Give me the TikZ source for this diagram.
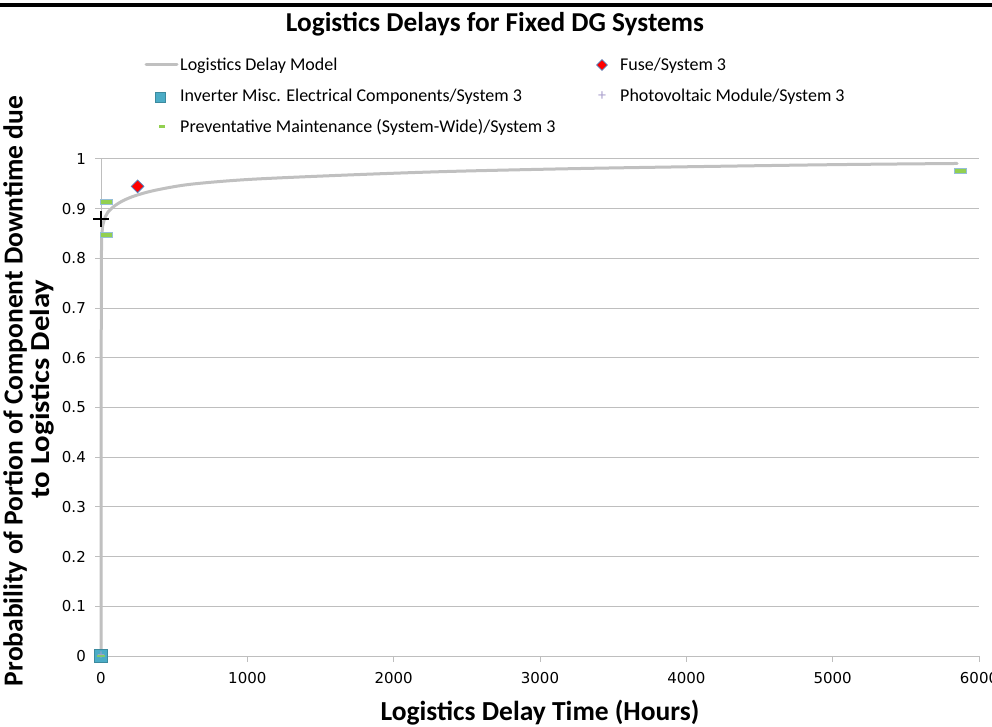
\documentclass[tikz,border=0pt]{standalone}
\usepackage{fontspec}
\setmainfont{Carlito}
\newfontfamily\tickfont{DejaVu Sans}
\usetikzlibrary{shapes.geometric}
\definecolor{gridgray}{RGB}{190,190,190}
\definecolor{curvegray}{RGB}{192,192,192}
\definecolor{mteal}{RGB}{75,172,198}
\definecolor{pvpurple}{RGB}{170,160,205}
\definecolor{mgreen}{RGB}{146,208,80}
\definecolor{mblue}{RGB}{79,129,189}
\definecolor{dashedge}{RGB}{150,190,215}
\tikzset{
  gridline/.style={draw=gridgray, line width=1pt},
  modelcurve/.style={draw=curvegray, line width=3pt, line cap=round, line join=round},
  tlabel/.style={font=\tickfont\fontsize{15}{17}\selectfont, inner sep=0pt},
  legtext/.style={font=\fontsize{18}{21}\selectfont, anchor=base west, inner sep=0pt},
  fusemark/.style={diamond, fill=red, draw=mblue, line width=0.8pt, minimum size=13pt, inner sep=0pt},
  invmark/.style={rectangle, fill=mteal, draw=mteal!80!black, line width=0.5pt, minimum size=13pt, inner sep=0pt},
  pmmark/.style={rectangle, fill=mgreen, draw=dashedge, line width=0.7pt, minimum width=12pt, minimum height=5pt, inner sep=0pt},
  axistitle/.style={font=\bfseries\fontsize{27.5}{30}\selectfont, inner sep=0pt}
}
\begin{document}
\begin{tikzpicture}[x=1pt,y=-1pt]
\useasboundingbox (0,0) rectangle (992,727);
\fill[white] (0,0) rectangle (992,727);
\draw[line width=3.5pt] (0,5) -- (992,5);
\node[axistitle, font=\bfseries\fontsize{27.3}{30}\selectfont, anchor=base] (title) at (495,32) {Logistics Delays for Fixed DG Systems};
% legend
\coordinate (l1a) at (146,65);
\coordinate (l1b) at (177,65);
\draw[modelcurve] (l1a) -- (l1b);
\node[legtext] (leg1) at (180,71) {Logistics Delay Model};
\node[fusemark, minimum size=11pt] (legfuse) at (602,65) {};
\node[legtext] (leg2) at (620,71) {Fuse/System 3};
\node[invmark, minimum size=10pt] (leginv) at (160,97) {};
\node[legtext] (leg3) at (180,102) {Inverter Misc. Electrical Components/System 3};
\node[text=pvpurple, font=\fontsize{16}{16}\selectfont, inner sep=0pt] (legpv) at (602,96) {+};
\node[legtext] (leg4) at (620,102) {Photovoltaic Module/System 3};
\node[pmmark, minimum width=6pt, minimum height=3pt, draw=none] (legpm) at (162,127) {};
\node[legtext] (leg5) at (180,133) {Preventative Maintenance (System-Wide)/System 3};
% axis titles
\node[axistitle, rotate=90] (ylab1) at (15,391) {Probability of Portion of Component Downtime due};
\node[axistitle, rotate=90, xscale=1.12] (ylab2) at (42,389) {to Logistics Delay};
\node[axistitle, anchor=base] (xlab) at (540,720) {Logistics Delay Time (Hours)};
% plot area
\begin{scope}[shift={(101,656)}, x=0.14633pt, y=497pt]
  \foreach \v in {1,...,10} {
    \draw[gridline] (0pt,\v/10) ++(-6pt,0pt) -- (6000,\v/10);
  }
  \draw[gridline] (-6pt,0) -- (6000,0);
  \draw[gridline] (0,0) -- (0,1);
  \foreach \t in {0,1000,...,6000} {
    \draw[gridline] (\t,0) -- ++(0pt,-6pt);
    \node[tlabel, anchor=north] (xt\t) at ([yshift=-16pt]\t,0) {\t};
  }
  \foreach \v/\lab in {0/0,1/0.1,2/0.2,3/0.3,4/0.4,5/0.5,6/0.6,7/0.7,8/0.8,9/0.9,10/1} {
    \node[tlabel, anchor=east] (yt\v) at ([xshift=-15pt]0,\v/10) {\lab};
  }
  \draw[modelcurve] plot[smooth, tension=0.5] coordinates {
    (0,0) (1,0.5) (3,0.80) (8,0.855) (20,0.876) (45,0.892) (90,0.905) (150,0.916)
    (232,0.926) (369,0.937) (608,0.949) (1018,0.959) (1702,0.968) (2385,0.975)
    (3300,0.981) (4367,0.986) (5119,0.989) (5850,0.991)};
  % data markers
  \node[invmark] (inv0) at (0,0) {};
  \node[text=pvpurple, font=\fontsize{14}{14}\selectfont, inner sep=0pt] (pv0) at (0,0) {+};
  \node[pmmark, minimum width=8pt, minimum height=2pt, draw=none, fill=mgreen!80!mteal] (pm0) at (0,0) {};
  \node[pmmark] (pm1) at (34,0.913) {};
  \node[pmmark] (pm2) at (34,0.847) {};
  \node[pmmark] (pm3) at (5870,0.977) {};
  \node[fusemark] (fuse1) at (250,0.945) {};
  \draw[line width=1.8pt] (-8pt,0.88) -- (8pt,0.88) (0,0.88) ++(0pt,-8pt) -- ++(0pt,16pt);
  \coordinate (pvpt) at (0,0.88);
\end{scope}
\end{tikzpicture}
\end{document}
